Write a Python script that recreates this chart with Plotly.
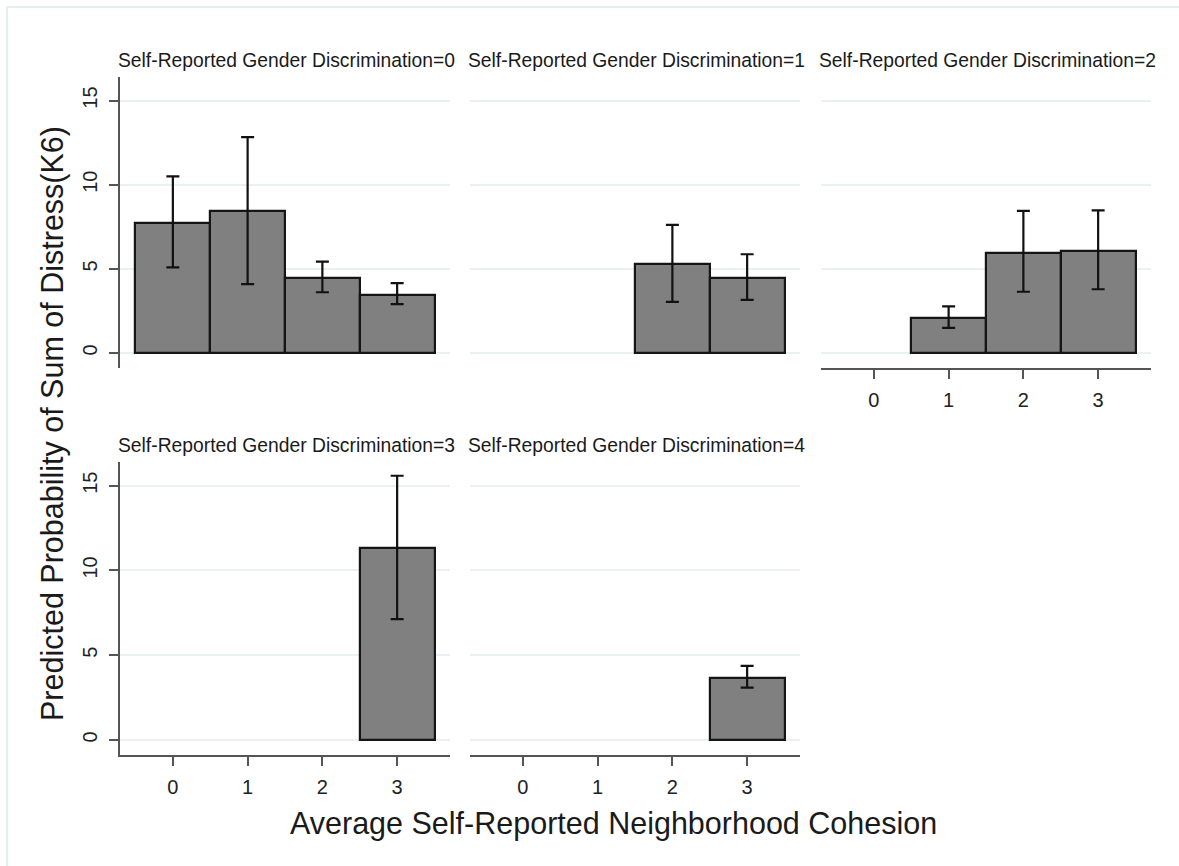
import plotly.graph_objects as go

# Predicted K6 distress by neighborhood cohesion, one panel per discrimination level
disc_levels = [0, 1, 2, 3, 4]

cohesion_d0 = [0, 1, 2, 3]
mean_d0 = [7.74, 8.41, 4.48, 3.45]
lower_d0 = [5.09, 4.09, 3.61, 2.90]
upper_d0 = [10.50, 12.83, 5.43, 4.15]

cohesion_d1 = [2, 3]
mean_d1 = [5.26, 4.47]
lower_d1 = [3.04, 3.16]
upper_d1 = [7.61, 5.87]

cohesion_d2 = [1, 2, 3]
mean_d2 = [2.08, 5.97, 6.07]
lower_d2 = [1.50, 3.64, 3.79]
upper_d2 = [2.77, 8.44, 8.48]

cohesion_d3 = [3]
mean_d3 = [11.32]
lower_d3 = [7.13]
upper_d3 = [15.59]

cohesion_d4 = [3]
mean_d4 = [3.68]
lower_d4 = [3.09]
upper_d4 = [4.37]

x_ticks = [0, 1, 2, 3]
y_ticks = [0, 5, 10, 15]

panel_title = "Self-Reported Gender Discrimination={}"
x_title = "Average Self-Reported Neighborhood Cohesion"
y_title = "Predicted Probability of Sum of Distress(K6)"

W, H = 1179, 866
FONT = "Liberation Sans, Arial, sans-serif"


def px_x(p):
    return p / W


def px_y(p):
    return 1 - p / H


# panel placement in pixels: (left, right), (top, bottom)
cols = [(120, 450), (470, 800), (821, 1151)]
rows = [(77, 368), (462, 755)]

panels = [
    (cohesion_d0, mean_d0, lower_d0, upper_d0),
    (cohesion_d1, mean_d1, lower_d1, upper_d1),
    (cohesion_d2, mean_d2, lower_d2, upper_d2),
    (cohesion_d3, mean_d3, lower_d3, upper_d3),
    (cohesion_d4, mean_d4, lower_d4, upper_d4),
]
positions = [(0, 0), (0, 1), (0, 2), (1, 0), (1, 1)]
show_x = [False, False, True, True, True]
show_y = [True, False, False, True, False]

fig = go.Figure()
layout_axes = {}
annotations = []

for i, ((xs, ms, lo, hi), (r, c)) in enumerate(zip(panels, positions)):
    k = i + 1
    xa = "x" if k == 1 else f"x{k}"
    ya = "y" if k == 1 else f"y{k}"
    fig.add_trace(go.Bar(
        x=xs, y=ms, width=1,
        xaxis=xa, yaxis=ya,
        marker=dict(color="#808080", line=dict(color="#151515", width=2.2)),
        error_y=dict(
            type="data", symmetric=False,
            array=[h - m for h, m in zip(hi, ms)],
            arrayminus=[m - l for m, l in zip(ms, lo)],
            color="#111111", thickness=2.2, width=6.5,
        ),
        showlegend=False,
    ))
    x0, x1 = cols[c]
    y0, y1 = rows[r]
    layout_axes["xaxis" if k == 1 else f"xaxis{k}"] = dict(
        domain=[px_x(x0), px_x(x1)],
        anchor=ya,
        range=[-0.707, 3.707],
        tickvals=x_ticks,
        ticktext=[str(t) for t in x_ticks],
        showticklabels=show_x[i],
        ticks="outside" if show_x[i] else "",
        ticklen=9, tickwidth=2, tickcolor="#555555",
        ticklabelstandoff=4,
        showline=show_x[i], linecolor="#555555", linewidth=2,
        showgrid=False, zeroline=False,
        tickfont=dict(family=FONT, size=20, color="#222222"),
    )
    layout_axes["yaxis" if k == 1 else f"yaxis{k}"] = dict(
        domain=[px_y(y1), px_y(y0)],
        anchor=xa,
        range=[-0.89, 16.4],
        tickvals=y_ticks,
        ticktext=[str(t) for t in y_ticks],
        showticklabels=show_y[i],
        ticks="outside" if show_y[i] else "",
        ticklen=9, tickwidth=2, tickcolor="#555555",
        ticklabelstandoff=4,
        tickangle=-90,
        showline=show_y[i], linecolor="#555555", linewidth=2,
        showgrid=True, gridcolor="#e9f1f2", gridwidth=2,
        zeroline=False,
        tickfont=dict(family=FONT, size=20, color="#222222"),
    )
    annotations.append(dict(
        text=panel_title.format(disc_levels[i]),
        xref="paper", yref="paper",
        x=px_x(x0 - 4), y=px_y(y0 - 17),
        xanchor="left", yanchor="middle",
        showarrow=False,
        font=dict(family=FONT, size=19.3, color="#1a1a1a"),
    ))

annotations.append(dict(
    text=x_title, xref="paper", yref="paper",
    x=px_x(613), y=px_y(823), xanchor="center", yanchor="middle",
    showarrow=False, font=dict(family=FONT, size=30.5, color="#1a1a1a"),
))
annotations.append(dict(
    text=y_title, xref="paper", yref="paper",
    x=px_x(52), y=px_y(424), xanchor="center", yanchor="middle",
    textangle=-90,
    showarrow=False, font=dict(family=FONT, size=30.5, color="#1a1a1a"),
))

frame = dict(
    type="path", xref="paper", yref="paper",
    path=f"M {px_x(7)} {px_y(866)} L {px_x(7)} {px_y(7)} L {px_x(1179)} {px_y(7)}",
    line=dict(color="#e4eeee", width=2),
)

fig.update_layout(
    width=W, height=H,
    margin=dict(l=0, r=0, t=0, b=0),
    paper_bgcolor="white", plot_bgcolor="white",
    bargap=0,
    annotations=annotations,
    shapes=[frame],
    **layout_axes,
)

fig.write_html("out.html")
